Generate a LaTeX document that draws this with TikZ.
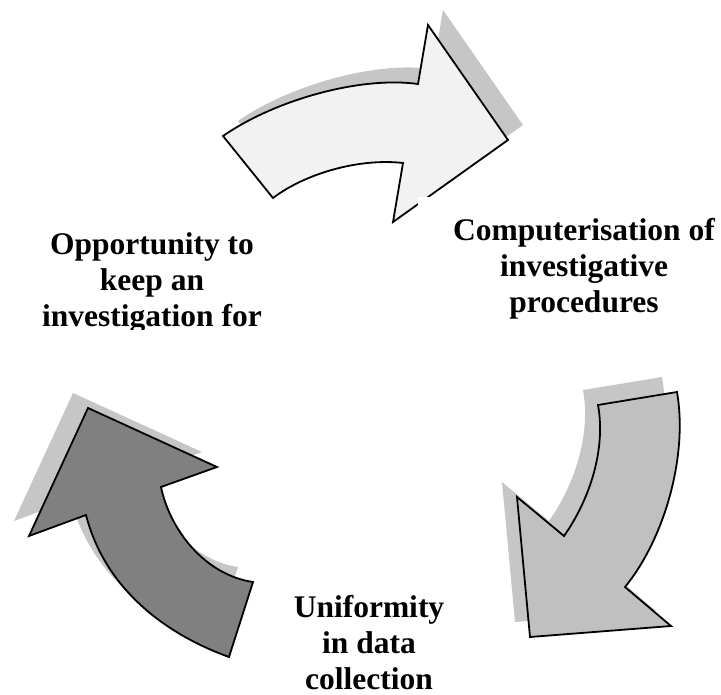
\documentclass[tikz,border=0pt]{standalone}
\usepackage{fontspec}
\setmainfont{Liberation Serif}
\definecolor{shadowgray}{HTML}{C6C6C6}
\definecolor{palefill}{HTML}{F2F2F2}
\definecolor{midfill}{HTML}{C0C0C0}
\definecolor{darkfill}{HTML}{808080}

% outlines of the three curved arrows (pixel-like units, y grows downward)
\newcommand{\toparrowpath}{(223,136) -- (273,198)
  .. controls (306,173) and (360,158) .. (403,163)
  -- (393,222) -- (508,140) -- (428,25) -- (418,84)
  .. controls (360,76) and (275,100) .. (223,136) -- cycle}
\newcommand{\rightarrowpath}{(598,405) -- (677,392)
  .. controls (688,455) and (665,538) .. (625,587)
  -- (671,626) -- (530,637) -- (517,497) -- (564,536)
  .. controls (590,499) and (606,449) .. (598,405) -- cycle}
\newcommand{\leftarrowpath}{(88,408) -- (217,467) -- (161,487)
  .. controls (170,530) and (205,575) .. (253,582)
  -- (229,657)
  .. controls (160,632) and (104,585) .. (86,515)
  -- (29,536) -- cycle}

\tikzset{
  arrowshape/.style={draw=black, line width=1.8pt, line join=miter},
  arrowshadow/.style={fill=shadowgray, draw=none},
  caption/.style={font=\fontsize{31.5}{36}\selectfont\bfseries, text=black,
    inner sep=0pt, anchor=base}
}

\begin{document}
\begin{tikzpicture}[x=1pt,y=-1pt]
  \useasboundingbox (0,0) rectangle (721,695);

  % drop shadows
  \path[arrowshadow, shift={(15,-15)}] \toparrowpath;
  \path[arrowshadow, shift={(-15,-15)}] \rightarrowpath;
  \path[arrowshadow, shift={(-15,-15)}] \leftarrowpath;

  % arrows
  \path[arrowshape, fill=palefill] \toparrowpath;
  \path[arrowshape, fill=midfill] \rightarrowpath;
  \path[arrowshape, fill=darkfill] \leftarrowpath;

  % captions
  \node[caption, fill=white, minimum width=332pt, inner ysep=18.8pt]
    (computerisation) at (584,241)
    {\begin{tabular}[t]{@{}c@{}}Computerisation of\\investigative\\procedures\end{tabular}};

  \begin{scope}
    \clip (0,0) rectangle (721,330);
    \node[caption] (opportunity) at (152,255)
      {\begin{tabular}[t]{@{}c@{}}Opportunity to\\keep an\\investigation for\end{tabular}};
  \end{scope}

  \node[caption] (uniformity) at (369,617)
    {\begin{tabular}[t]{@{}c@{}}Uniformity\\in data\\collection\end{tabular}};
\end{tikzpicture}
\end{document}
